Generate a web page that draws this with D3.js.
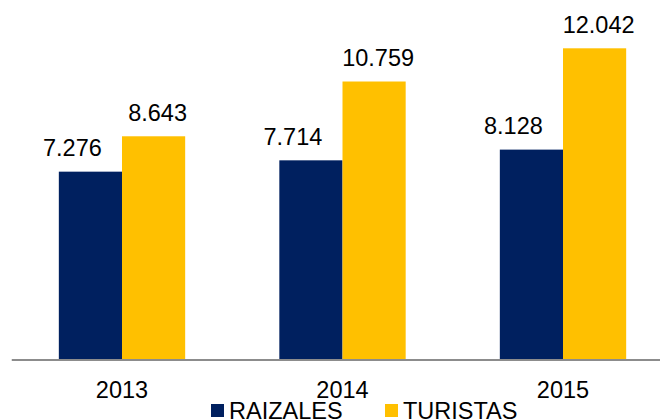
<!DOCTYPE html>
<html>
<head>
<meta charset="utf-8">
<script src="https://cdn.jsdelivr.net/npm/d3@7"></script>
<style>
  body { margin: 0; background: #fff; }
  svg text { font-family: "Liberation Sans", Arial, sans-serif; fill: #000; }
</style>
</head>
<body>
<svg width="660" height="420"></svg>
<script>
const years = ["2013", "2014", "2015"];
const seriesNames = ["RAIZALES", "TURISTAS"];
const raizales = [7.276, 7.714, 8.128];
const turistas = [8.643, 10.759, 12.042];

const svg = d3.select("svg");
const color = d3.scaleOrdinal().domain(seriesNames).range(["#00205F", "#FFC000"]);

const baseY = 360;
const x = d3.scaleBand().domain(years).range([11.75, 673.25])
  .paddingInner(0.427).paddingOuter(0.2135);
const xs = d3.scaleBand().domain(seriesNames).range([0, x.bandwidth()]);
const y = d3.scaleLinear().domain([0, 12.042]).range([baseY, 48.3]);

const data = years.map((yr, i) => ({
  year: yr,
  values: [
    { key: "RAIZALES", value: raizales[i] },
    { key: "TURISTAS", value: turistas[i] }
  ]
}));

const fmt = v => v.toFixed(3);
// label shift relative to bar centre, per series (as in the source)
const labelShift = { RAIZALES: -18, TURISTAS: 4 };

const groups = svg.append("g").selectAll("g")
  .data(data)
  .enter()
  .append("g")
  .attr("transform", d => `translate(${x(d.year)},0)`);

groups.selectAll("rect")
  .data(d => d.values)
  .enter()
  .append("rect")
  .attr("x", d => xs(d.key))
  .attr("y", d => y(d.value))
  .attr("width", xs.bandwidth())
  .attr("height", d => baseY - y(d.value))
  .attr("fill", d => color(d.key));

groups.selectAll("text")
  .data(d => d.values)
  .enter()
  .append("text")
  .attr("x", d => xs(d.key) + xs.bandwidth() / 2 + labelShift[d.key])
  .attr("y", d => y(d.value) - 15.5)
  .attr("text-anchor", "middle")
  .style("font-size", "23.5px")
  .text(d => fmt(d.value));

// Axis
const xAxis = svg.append("g")
  .attr("transform", `translate(0,${baseY})`)
  .call(d3.axisBottom(x).tickSize(0).tickPadding(0));
xAxis.select(".domain").attr("stroke", "#8C8C8C").attr("stroke-width", 2)
  .attr("d", "M11.75,0H660");
xAxis.selectAll(".tick text")
  .attr("dy", null)
  .attr("y", 38)
  .style("font-size", "23.5px")
  .style("font-family", "'Liberation Sans', Arial, sans-serif")
  .attr("fill", "#000");

// Legend
const legendPos = [211, 385];
const legend = svg.append("g");
legend.selectAll("g")
  .data(seriesNames)
  .enter()
  .append("g")
  .attr("transform", (d, i) => `translate(${legendPos[i]},404)`)
  .each(function(d) {
    d3.select(this).append("rect")
      .attr("width", 13).attr("height", 13)
      .attr("fill", color(d));
    d3.select(this).append("text")
      .attr("x", 18).attr("y", 14.5)
      .style("font-size", "23.5px")
      .text(d);
  });
</script>
</body>
</html>
